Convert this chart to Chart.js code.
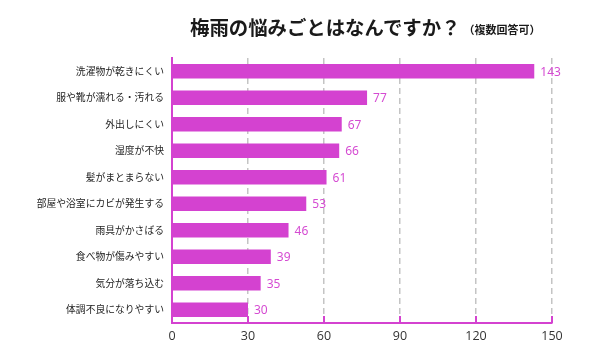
<!DOCTYPE html>
<html><head><meta charset="utf-8">
<script src="https://cdn.jsdelivr.net/npm/chart.js@4"></script>
<style>
html,body{margin:0;padding:0;background:#fff;}
#wrap{position:relative;width:600px;height:360px;}
#title{position:absolute;left:0;top:13px;width:600px;text-align:left;padding-left:190px;box-sizing:border-box;font-family:"Noto Sans CJK JP",sans-serif;font-weight:bold;color:#1a1a1a;font-size:19.4px;line-height:28px;white-space:nowrap;}
#title small{font-size:11px;font-weight:bold;margin-left:3px;vertical-align:1px;}
canvas{position:absolute;left:0;top:0;}
</style></head>
<body><div id="wrap"><canvas id="c" width="600" height="360"></canvas>
<div id="title">梅雨の悩みごとはなんですか？<small>（複数回答可）</small></div></div>
<script>
const categories = ["洗濯物が乾きにくい","服や靴が濡れる・汚れる","外出しにくい","湿度が不快","髪がまとまらない","部屋や浴室にカビが発生する","雨具がかさばる","食べ物が傷みやすい","気分が落ち込む","体調不良になりやすい"];
const values = [143,77,67,66,61,53,46,39,35,30];
const xTicks = [0,30,60,90,120,150];

const MAG = "#d442d0";
const labelPlugin = {
  id:"vals",
  afterDatasetsDraw(chart){
    const ctx = chart.ctx, meta = chart.getDatasetMeta(0);
    ctx.save();
    ctx.font = "12px 'Noto Sans', sans-serif";
    ctx.fillStyle = "#d54bd2";
    ctx.textBaseline = "middle";
    meta.data.forEach((b,i)=>{ ctx.fillText(String(values[i]), b.x + 6, b.y + 1); });
    const xs = chart.scales.x;
    ctx.strokeStyle = MAG; ctx.lineWidth = 2;
    xTicks.forEach(v=>{ if(v===0) return; const px = xs.getPixelForValue(v);
      ctx.beginPath(); ctx.moveTo(px, xs.top - 7); ctx.lineTo(px, xs.top); ctx.stroke(); });
    ctx.restore();
  }
};

new Chart(document.getElementById("c"), {
  type:"bar",
  data:{ labels:categories, datasets:[{ data:values, backgroundColor:MAG, borderWidth:0, barPercentage:0.54, categoryPercentage:1 }]},
  options:{
    indexAxis:"y", responsive:false, animation:false,
    layout:{ padding:{ top:58, right:48, bottom:10, left:0 } },
    plugins:{ legend:{display:false}, tooltip:{enabled:false}, title:{display:false} },
    scales:{
      x:{ min:0, max:150, afterBuildTicks(s){ s.ticks = xTicks.map(v=>({value:v})); },
        grid:{ drawTicks:false, color:(c)=> c.tick && c.tick.value===0 ? "rgba(0,0,0,0)" : "#c4c4c4", lineWidth:1.5 },
        border:{ display:true, color:MAG, width:2, dash:[6,4] },
        ticks:{ padding:6, color:"#333", font:{ family:"'Open Sans', sans-serif", size:12.5 } }
      },
      y:{ afterFit(s){ s.width = 172; },
        grid:{ display:false, drawTicks:false },
        border:{ display:true, color:MAG, width:2 },
        ticks:{ padding:8, color:"#222", font:{ family:"'Noto Sans CJK JP', sans-serif", size:9.8 } }
      }
    }
  },
  plugins:[labelPlugin]
});
</script></body></html>
